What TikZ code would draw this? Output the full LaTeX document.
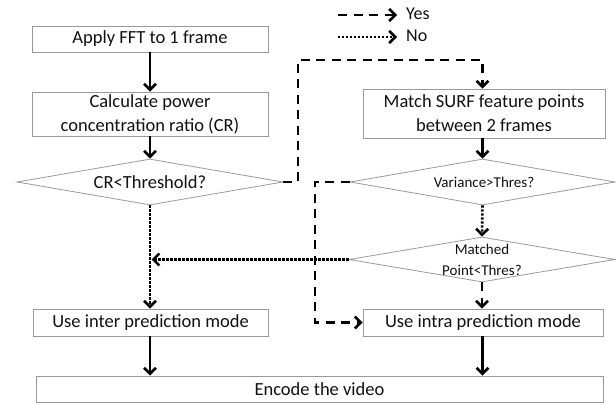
\documentclass[tikz,border=0pt]{standalone}
\usepackage{fontspec}
\setmainfont{Carlito}
\usetikzlibrary{arrows.meta,shapes.geometric}
\definecolor{boxgray}{HTML}{9A9A9A}
\definecolor{textc}{HTML}{111111}
\begin{document}
\begin{tikzpicture}[x=1pt,y=-1pt,
  box/.style={draw=boxgray, line width=0.8pt, inner sep=0pt, align=center, font=\fontsize{18.5}{24}\selectfont, text=textc},
  dia/.style={diamond, draw=boxgray, line width=0.8pt, inner sep=0pt, aspect=6, font=\fontsize{18.5}{24}\selectfont, text=textc},
  small/.style={inner sep=0pt, align=center, font=\fontsize{15}{21}\selectfont, text=textc},
  lab/.style={inner sep=0pt, anchor=west, font=\fontsize{18}{22}\selectfont, text=textc},
  arr/.style={line width=2.6pt, -{Straight Barb[length=6pt,width=12pt]}},
  yes/.style={arr, dash pattern=on 9pt off 6.5pt},
  no/.style={arr, dash pattern=on 2.2pt off 1.8pt},
]
\useasboundingbox (0,0) rectangle (616,403);
% nodes
\node[box, minimum width=236pt, minimum height=26pt] (b1) at (150,39) {Apply FFT to 1 frame};
\node[box, minimum width=236pt, minimum height=44pt] (b2) at (150,114) {Calculate power\\concentration ratio (CR)};
\node[dia, minimum width=266pt, minimum height=46pt] (d1) at (150,182) {CR<Threshold?};
\node[box, minimum width=242pt, minimum height=49pt] (b3) at (484,113.5) {Match SURF feature points\\between 2 frames};
\node[dia, minimum width=265pt, minimum height=46pt] (d2) at (482.5,182) {};
\node[small] (t2) at (484,182) {Variance>Thres?};
\node[dia, minimum width=266pt, minimum height=45pt] (d3) at (482,259.5) {};
\node[small] (t3) at (482,259.5) {Matched\\Point<Thres?};
\node[box, minimum width=235pt, minimum height=27pt] (b4) at (150.5,322.5) {Use inter prediction mode};
\node[box, minimum width=240pt, minimum height=27pt] (b5) at (483,322.5) {Use intra prediction mode};
\node[box, minimum width=567pt, minimum height=26pt] (b6) at (319.5,389) {Encode the video};
% coordinates
\coordinate (c1) at (298,60);
\coordinate (c2) at (315,182);
\coordinate (m) at (151.5,259.5);
% legend
\coordinate (ya) at (338,15);
\coordinate (yb) at (397,15);
\coordinate (na) at (338,37);
\coordinate (nb) at (397,37);
\draw[yes] (ya) -- (yb);
\node[lab] (yl) at (406,14) {Yes};
\draw[no] (na) -- (nb);
\node[lab] (nl) at (406,36) {No};
% connectors
\draw[arr] (b1) -- (b2);
\draw[arr] (b2) -- (d1);
\draw[yes] (d1.east) -| (c1) -| (b3.north -| d2);
\draw[arr] (b3.south -| d2) -- (d2.north);
\draw[no] (d2.south) -- (d3.north);
\draw[yes] (d3.south) -- (b5.north -| d3);
\draw[yes] (d2.west) -- (c2) |- (b5.west);
\draw[no] (d1.south) -- (b4.north -| d1);
\draw[no] (d3.west) -- (m);
\draw[arr] (b4.south -| d1) -- (b6.north -| d1);
\draw[arr] (b5.south -| d2) -- (b6.north -| d2);
\end{tikzpicture}
\end{document}
